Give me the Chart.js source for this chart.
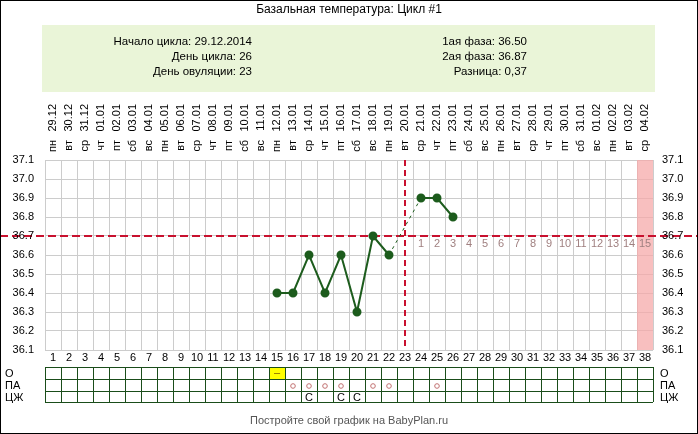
<!DOCTYPE html>
<html><head><meta charset="utf-8">
<script src="https://cdn.jsdelivr.net/npm/chart.js@4"></script>
<style>html,body{margin:0;padding:0;background:#fff}#w{width:698px;height:434px;position:relative}</style>
</head><body><div id="w"><canvas id="c" width="698" height="434"></canvas></div>
<script>
const days = Array.from({length:38},(_,i)=>i+1);
const dates = ["29.12","30.12","31.12","01.01","02.01","03.01","04.01","05.01","06.01","07.01","08.01","09.01","10.01","11.01","12.01","13.01","14.01","15.01","16.01","17.01","18.01","19.01","20.01","21.01","22.01","23.01","24.01","25.01","26.01","27.01","28.01","29.01","30.01","31.01","01.02","02.02","03.02","04.02"];
const weekdays = ["пн","вт","ср","чт","пт","сб","вс","пн","вт","ср","чт","пт","сб","вс","пн","вт","ср","чт","пт","сб","вс","пн","вт","ср","чт","пт","сб","вс","пн","вт","ср","чт","пт","сб","вс","пн","вт","ср"];
const tempDays = [15,16,17,18,19,20,21,22,24,25,26];
const temps = [36.4,36.4,36.6,36.4,36.6,36.3,36.7,36.6,36.9,36.9,36.8];
const yTicks = [37.1,37.0,36.9,36.8,36.7,36.6,36.5,36.4,36.3,36.2,36.1];
const coverLine = 36.7;
const ovulationDay = 23;
const shadedDay = 38;
const phase2Labels = ["1","2","3","4","5","6","7","8","9","10","11","12","13","14","15"];
const rowLabels = ["О","ПА","ЦЖ"];
const oMarks = {15:"–"};
const paDays = [16,17,18,19,21,22,25];
const czhMarks = {17:"С",19:"С",20:"С"};
const infoLeft = ["Начало цикла: 29.12.2014","День цикла: 26","День овуляции: 23"];
const infoRight = ["1ая фаза: 36.50","2ая фаза: 36.87","Разница: 0,37"];
const title = "Базальная температура: Цикл #1";
const footer = "Постройте свой график на BabyPlan.ru";

const F = '"Liberation Sans", Arial, sans-serif';
const extras = {
  id:'extras',
  beforeDatasetsDraw(ch){
    const c=ch.ctx,x=ch.scales.x,y=ch.scales.y,a=ch.chartArea;
    c.save();
    c.fillStyle='rgba(245,170,170,0.75)';
    c.fillRect(x.getPixelForValue(shadedDay-0.5),a.top,x.getPixelForValue(shadedDay+0.5)-x.getPixelForValue(shadedDay-0.5),a.bottom-a.top);
    c.strokeStyle='#c8102e';c.lineWidth=2;c.setLineDash([8,4]);
    const yc=Math.round(y.getPixelForValue(coverLine));
    c.beginPath();c.moveTo(0,yc);c.lineTo(698,yc);c.stroke();
    const xo=Math.round(x.getPixelForValue(ovulationDay));
    c.setLineDash([6,4]);
    c.beginPath();c.moveTo(xo,a.top);c.lineTo(xo,a.bottom);c.stroke();
    c.setLineDash([]);
    c.fillStyle='#a08080';c.font='11px '+F;c.textAlign='center';c.textBaseline='middle';
    phase2Labels.forEach((t,i)=>c.fillText(t,x.getPixelForValue(ovulationDay+1+i),yc+8));
    c.restore();
  },
  afterDraw(ch){
    const c=ch.ctx,x=ch.scales.x,y=ch.scales.y,a=ch.chartArea;
    c.save();
    c.strokeStyle='#000';c.lineWidth=1;c.strokeRect(0.5,0.5,697,433);
    c.fillStyle='#000';c.font='12px '+F;c.textAlign='center';c.textBaseline='middle';
    c.fillText(title,349,10);
    c.fillStyle='#eaf5d8';c.fillRect(42,25,613,67);
    c.fillStyle='#000';c.font='11.5px '+F;
    c.textAlign='right';infoLeft.forEach((t,i)=>c.fillText(t,252,42+i*15));
    infoRight.forEach((t,i)=>c.fillText(t,527,42+i*15));
    // y labels
    c.font='11px '+F;
    yTicks.forEach(v=>{const p=y.getPixelForValue(v);c.textAlign='right';c.fillText(v.toFixed(1),34,p);c.textAlign='left';c.fillText(v.toFixed(1),662,p);});
    // top rotated labels
    days.forEach((d,i)=>{const px=x.getPixelForValue(d);
      c.save();c.translate(px,0);c.rotate(-Math.PI/2);c.textAlign='right';c.textBaseline='middle';
      c.fillText(weekdays[i],-140,0);c.fillText(dates[i],-104,0);c.restore();
      c.textAlign='center';c.fillText(String(d),px,358);
    });
    // table
    const tl=x.getPixelForValue(0.5),tr=x.getPixelForValue(38.5),rows=[367,379,391,402];
    c.fillStyle='#ffff00';
    const o15=x.getPixelForValue(14.5);c.fillRect(o15,rows[0],x.getPixelForValue(15.5)-o15,rows[1]-rows[0]);
    c.strokeStyle='#1a4d1a';c.lineWidth=1;
    rows.forEach(r=>{c.beginPath();c.moveTo(tl,r+0.5);c.lineTo(tr,r+0.5);c.stroke();});
    for(let k=0;k<=38;k++){const px=Math.round(x.getPixelForValue(k+0.5))+0.5;c.beginPath();c.moveTo(px,rows[0]);c.lineTo(px,rows[3]);c.stroke();}
    c.fillStyle='#000';c.font='11px '+F;
    rowLabels.forEach((t,i)=>{const cy=(rows[i]+rows[i+1])/2+1;c.textAlign='left';c.fillText(t,5,cy);c.fillText(t,660,cy);});
    c.textAlign='center';
    Object.entries(oMarks).forEach(([d,t])=>{c.fillStyle='#806000';c.fillText(t,x.getPixelForValue(+d),(rows[0]+rows[1])/2);});
    c.strokeStyle='#c07070';
    paDays.forEach(d=>{c.beginPath();c.arc(x.getPixelForValue(d),(rows[1]+rows[2])/2+1,2.3,0,Math.PI*2);c.stroke();});
    c.fillStyle='#000';
    Object.entries(czhMarks).forEach(([d,t])=>c.fillText(t,x.getPixelForValue(+d),(rows[2]+rows[3])/2+1));
    c.fillStyle='#555';c.font='11px '+F;c.fillText(footer,349,421);
    c.restore();
  }
};
new Chart(document.getElementById('c'),{
  type:'line',
  data:{datasets:[{data:tempDays.map((d,i)=>({x:d,y:temps[i]})),
    borderColor:'#1d5c1d',backgroundColor:'#1d5c1d',borderWidth:2,pointRadius:3.5,pointHoverRadius:3.5,tension:0,
    segment:{borderDash:ctx=>(ctx.p1.parsed.x-ctx.p0.parsed.x>1?[3,4]:undefined),
             borderWidth:ctx=>(ctx.p1.parsed.x-ctx.p0.parsed.x>1?1:2)}}]},
  options:{responsive:false,animation:false,events:[],
    layout:{padding:{left:45,right:45,top:160,bottom:84}},
    plugins:{legend:{display:false},tooltip:{enabled:false}},
    scales:{
      x:{type:'linear',min:0.5,max:38.5,
        afterBuildTicks:s=>{s.ticks=Array.from({length:39},(_,i)=>({value:i+0.5}));},
        ticks:{display:false},border:{display:false},grid:{color:'#cccccc',drawTicks:false}},
      y:{min:36.1,max:37.1,
        afterBuildTicks:s=>{s.ticks=yTicks.map(v=>({value:v}));},
        ticks:{display:false},border:{display:false},grid:{color:'#cccccc',drawTicks:false}}
    }},
  plugins:[extras]
});
</script></body></html>
